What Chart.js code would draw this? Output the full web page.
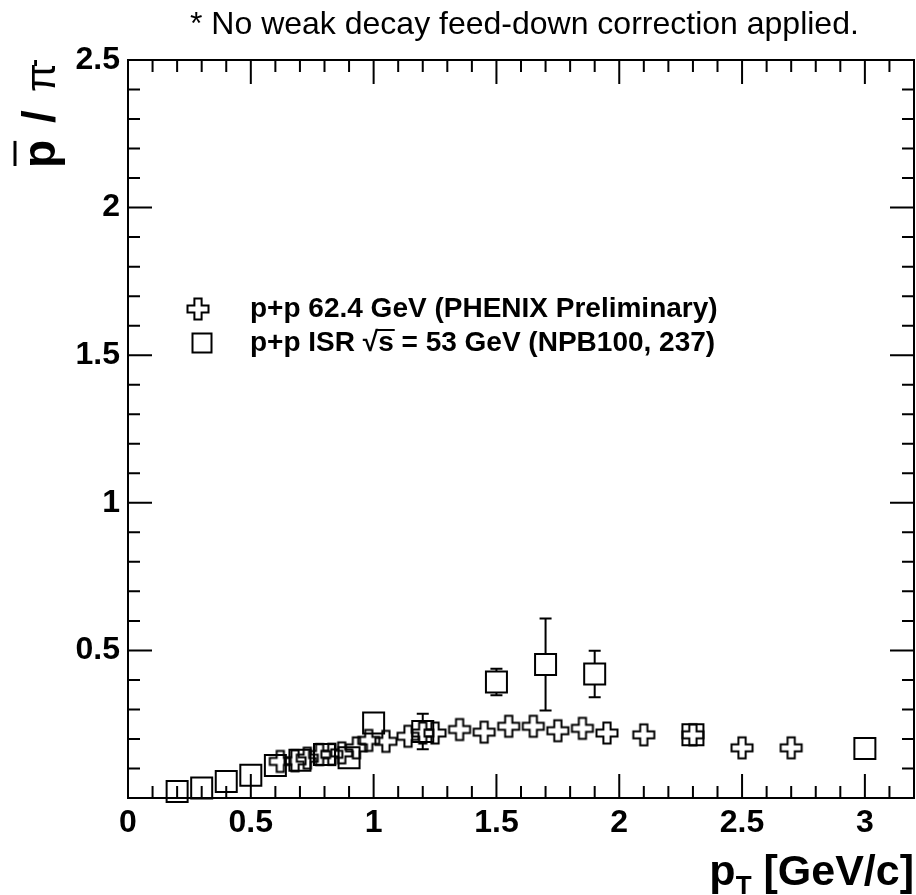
<!DOCTYPE html>
<html>
<head>
<meta charset="utf-8">
<script src="https://cdn.jsdelivr.net/npm/chart.js@4"></script>
<style>
  html, body { margin: 0; padding: 0; background: #fff; }
  canvas { display: block; }
</style>
</head>
<body>
<canvas id="c" width="916" height="895"></canvas>
<script>
// ---- data ----
const phenixPt   = [0.62, 0.68, 0.73, 0.78, 0.83, 0.87, 0.93, 0.98, 1.05, 1.14, 1.2, 1.25, 1.35, 1.45, 1.55, 1.65, 1.75, 1.85, 1.95, 2.1, 2.3, 2.5, 2.7];
const phenixRatio= [0.124, 0.126, 0.135, 0.147, 0.148, 0.153, 0.17, 0.195, 0.192, 0.209, 0.22, 0.22, 0.232, 0.223, 0.243, 0.243, 0.228, 0.236, 0.22, 0.214, 0.214, 0.17, 0.17];

const isrPt      = [0.2, 0.3, 0.4, 0.5, 0.6, 0.7, 0.8, 0.9, 1.0, 1.2, 1.5, 1.7, 1.9, 2.3, 3.0];
const isrRatio   = [0.022, 0.034, 0.056, 0.077, 0.11, 0.128, 0.147, 0.136, 0.254, 0.225, 0.393, 0.452, 0.42, 0.214, 0.168];
const isrErr     = [0, 0, 0, 0, 0, 0, 0, 0, 0, 0.06, 0.045, 0.156, 0.079, 0, 0];

const xMin = 0, xMax = 3.2, yMin = 0, yMax = 2.5;
const legendLabels = ['p+p 62.4 GeV (PHENIX Preliminary)', 'p+p ISR \u221As = 53 GeV (NPB100, 237)'];
const noteText = '* No weak decay feed-down correction applied.';

const FONT = "'Liberation Sans', Arial, Helvetica, sans-serif";

// open cross marker image
function makeCross() {
  const cv = document.createElement('canvas');
  cv.width = 26; cv.height = 26;
  const g = cv.getContext('2d');
  const c = 13, a = 10.5, b = 3.6;
  g.strokeStyle = '#000'; g.lineWidth = 2; g.lineJoin = 'miter';
  g.beginPath();
  g.moveTo(c - b, c - a); g.lineTo(c + b, c - a); g.lineTo(c + b, c - b);
  g.lineTo(c + a, c - b); g.lineTo(c + a, c + b); g.lineTo(c + b, c + b);
  g.lineTo(c + b, c + a); g.lineTo(c - b, c + a); g.lineTo(c - b, c + b);
  g.lineTo(c - a, c + b); g.lineTo(c - a, c - b); g.lineTo(c - b, c - b);
  g.closePath(); g.stroke();
  return cv;
}
const crossImg = makeCross();
const SQ_HALF = 10.5;

function isMajor(v) { return Math.round(v * 10) % 5 === 0; }
function fmt(v) { return String(+(Math.round(v * 10) / 10).toFixed(1)); }

const frameTicks = {
  id: 'frameTicks',
  beforeDatasetsDraw(chart) {
    const { ctx, chartArea: a, scales: { x, y } } = chart;
    ctx.save();
    ctx.strokeStyle = '#000';
    ctx.lineWidth = 2;
    ctx.beginPath();
    x.ticks.forEach(t => {
      const px = x.getPixelForValue(t.value);
      const L = isMajor(t.value) ? 24 : 12;
      if (t.value <= xMin + 1e-6 || t.value >= xMax - 1e-6) return;
      ctx.moveTo(px, a.bottom); ctx.lineTo(px, a.bottom - L);
      ctx.moveTo(px, a.top); ctx.lineTo(px, a.top + L);
    });
    y.ticks.forEach(t => {
      const py = y.getPixelForValue(t.value);
      const L = isMajor(t.value) ? 24 : 12;
      if (t.value <= yMin + 1e-6 || t.value >= yMax - 1e-6) return;
      ctx.moveTo(a.left, py); ctx.lineTo(a.left + L, py);
      ctx.moveTo(a.right, py); ctx.lineTo(a.right - L, py);
    });
    ctx.stroke();
    ctx.strokeRect(a.left, a.top, a.right - a.left, a.bottom - a.top);
    ctx.restore();
  }
};

const errorBars = {
  id: 'errorBars',
  afterDatasetsDraw(chart) {
    const { ctx, scales: { y } } = chart;
    chart.data.datasets.forEach((ds, di) => {
      if (!ds.errors) return;
      const meta = chart.getDatasetMeta(di);
      ctx.save();
      ctx.strokeStyle = '#000'; ctx.lineWidth = 2;
      meta.data.forEach((el, i) => {
        const e = ds.errors[i];
        if (!e) return;
        const v = ds.data[i].y;
        const top = y.getPixelForValue(v + e);
        const bot = y.getPixelForValue(v - e);
        const px = el.x, py = el.y;
        ctx.beginPath();
        if (top < py - SQ_HALF) { ctx.moveTo(px, top); ctx.lineTo(px, py - SQ_HALF); }
        if (bot > py + SQ_HALF) { ctx.moveTo(px, py + SQ_HALF); ctx.lineTo(px, bot); }
        ctx.moveTo(px - 6, top); ctx.lineTo(px + 6, top);
        ctx.moveTo(px - 6, bot); ctx.lineTo(px + 6, bot);
        ctx.stroke();
      });
      ctx.restore();
    });
  }
};

const texts = {
  id: 'texts',
  afterDraw(chart) {
    const ctx = chart.ctx;
    ctx.save();
    ctx.fillStyle = '#000';
    ctx.strokeStyle = '#000';
    ctx.textAlign = 'left';
    ctx.textBaseline = 'alphabetic';

    // note on top
    ctx.font = `32px ${FONT}`;
    ctx.fillText(noteText, 190, 34);

    // legend
    const lx = 250;
    const ly = [309, 343];
    ctx.drawImage(crossImg, 198 - 13, ly[0] - 13);
    ctx.lineWidth = 2;
    ctx.strokeRect(202 - SQ_HALF + 1, ly[1] - SQ_HALF + 1, 2 * SQ_HALF - 2, 2 * SQ_HALF - 2);
    ctx.font = `bold 28px ${FONT}`;
    ctx.textBaseline = 'middle';
    ctx.fillText(legendLabels[0], lx, ly[0]);
    const full = legendLabels[1];
    const idxS = full.indexOf('\u221A') + 1;
    ctx.fillText(full, lx, ly[1]);
    const pre = ctx.measureText(full.slice(0, idxS)).width;
    const sw = ctx.measureText('s').width;
    ctx.lineWidth = 2;
    ctx.beginPath();
    ctx.moveTo(lx + pre - 2, ly[1] - 13);
    ctx.lineTo(lx + pre + sw + 1, ly[1] - 13);
    ctx.stroke();

    // x title: p_T [GeV/c]
    ctx.textBaseline = 'alphabetic';
    ctx.font = `bold 43px ${FONT}`;
    const wp = ctx.measureText('p').width;
    const wr = ctx.measureText(' [GeV/c]').width;
    ctx.font = `bold 26px ${FONT}`;
    const wt = ctx.measureText('T').width;
    const xr = 914;
    const x0 = xr - (wp + wt + wr);
    ctx.font = `bold 43px ${FONT}`;
    ctx.fillText('p', x0, 885);
    ctx.fillText(' [GeV/c]', x0 + wp + wt, 885);
    ctx.font = `bold 26px ${FONT}`;
    ctx.fillText('T', x0 + wp, 894);

    // y title: p-bar / pi-
    ctx.save();
    ctx.translate(55, 168);
    ctx.rotate(-Math.PI / 2);
    ctx.font = `bold 46px ${FONT}`;
    ctx.fillText('p', 0, 0);
    const pw = ctx.measureText('p').width;
    ctx.lineWidth = 3;
    ctx.beginPath();
    ctx.moveTo(2, -40); ctx.lineTo(pw - 1, -40);
    ctx.stroke();
    ctx.fillText('/', 45, 0);
    ctx.font = `42px ${FONT}`;
    ctx.fillText('\u03C0', 76, 0);
    ctx.font = `bold 24px ${FONT}`;
    ctx.fillText('-', 101, -13);
    ctx.restore();

    ctx.restore();
  }
};

const ctx = document.getElementById('c').getContext('2d');
new Chart(ctx, {
  type: 'scatter',
  data: {
    datasets: [
      {
        label: legendLabels[0],
        data: phenixPt.map((x, i) => ({ x, y: phenixRatio[i] })),
        pointStyle: crossImg,
        pointRadius: 13,
        pointHoverRadius: 13,
        showLine: false,
        clip: false
      },
      {
        label: legendLabels[1],
        data: isrPt.map((x, i) => ({ x, y: isrRatio[i] })),
        errors: isrErr,
        pointStyle: 'rect',
        pointRadius: SQ_HALF / Math.SQRT1_2,
        pointHoverRadius: SQ_HALF / Math.SQRT1_2,
        pointBorderWidth: 2,
        pointHoverBorderWidth: 2,
        borderColor: '#000',
        pointBorderColor: '#000',
        pointBackgroundColor: 'rgba(0,0,0,0)',
        backgroundColor: 'rgba(0,0,0,0)',
        showLine: false,
        clip: false
      }
    ]
  },
  options: {
    responsive: false,
    animation: false,
    devicePixelRatio: 1,
    events: [],
    layout: { autoPadding: false, padding: { top: 60, right: 2, left: 0, bottom: 0 } },
    plugins: { legend: { display: false }, tooltip: { enabled: false }, title: { display: false } },
    scales: {
      x: {
        type: 'linear',
        min: xMin, max: xMax,
        border: { display: false },
        grid: { display: false, drawTicks: false },
        ticks: {
          stepSize: 0.1, autoSkip: false, maxRotation: 0, minRotation: 0,
          padding: 6,
          color: '#000',
          font: { family: FONT, size: 32, weight: 'bold' },
          callback: v => isMajor(v) ? fmt(v) : ''
        },
        afterFit: s => { s.height = 97; s.paddingLeft = 0; s.paddingRight = 0; }
      },
      y: {
        type: 'linear',
        min: yMin, max: yMax,
        border: { display: false },
        grid: { display: false, drawTicks: false },
        ticks: {
          stepSize: 0.1, autoSkip: false,
          padding: 8,
          color: '#000',
          font: { family: FONT, size: 32, weight: 'bold' },
          callback: v => (isMajor(v) && Math.abs(v) > 1e-6) ? fmt(v) : ''
        },
        afterFit: s => { s.width = 128; s.paddingTop = 0; s.paddingBottom = 0; }
      }
    }
  },
  plugins: [frameTicks, errorBars, texts]
});
</script>
</body>
</html>
